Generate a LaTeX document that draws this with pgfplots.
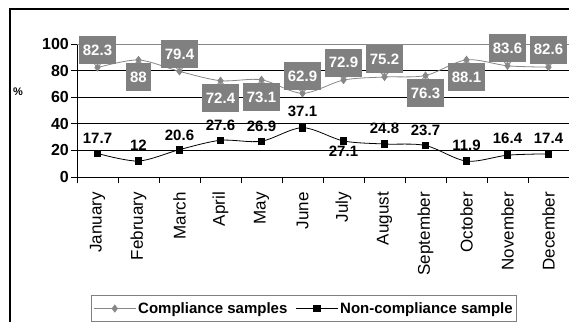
\documentclass[border=0pt]{standalone}
\usepackage{fontspec}
\setmainfont{Liberation Sans}
\usepackage{pgfplots}
\pgfplotsset{compat=1.18}
\usepackage{pgfplotstable}

\definecolor{boxgray}{RGB}{128,128,128}
\definecolor{linegray}{RGB}{135,135,135}

% m: month, c/cl: compliance value and its label, coff: label box offset,
% cb/ct: base and tip of the small pointer, measured from the box centre,
% n/nl: non-compliance value and its label, nd: label offset
\pgfplotstableread{
m  c     cl    coff   cb    ct     n     nl    nd
1  82.3  82.3  17.5  -13.5 -17.5  17.7  17.7  15
2  88    88   -17.5   13.5  17.5  12    12    16
3  79.4  79.4  17.5  -13.5 -17.5  20.6  20.6  14
4  72.4  72.4 -17.5   13.5  17.5  27.6  27.6  15
5  73.1  73.1 -17.5   13.5  17.5  26.9  26.9  15
6  62.9  62.9  17.5  -13.5 -17.5  37.1  37.1  16
7  72.9  72.9  17.5  -13.5 -17.5  27.1  27.1 -10
8  75.2  75.2  17.5  -13.5 -17.5  24.8  24.8  16
9  76.3  76.3 -17.5   13.5  17.5  23.7  23.7  15
10 88.1  88.1 -17.5   13.5  17.5  11.9  11.9  16
11 83.6  83.6  17.5  -13.5 -17.5  16.4  16.4  17
12 82.6  82.6  17.5  -13.5 -17.5  17.4  17.4  16
}\samples

\begin{document}
\begin{tikzpicture}
\useasboundingbox (0,0) rectangle (569bp,322bp);
\clip (0,0) rectangle (569bp,322bp);
\fill[white] (0,0) rectangle (569bp,322bp);
\draw[line width=2bp] (9.5bp,-5bp) |- (580bp,312.5bp);
\begin{axis}[
  at={(77bp,145bp)}, anchor=south west,
  scale only axis, width=492bp, height=133bp,
  xmin=0.5, xmax=12.5, ymin=0, ymax=100,
  clip=false,
  axis x line*=bottom, axis y line*=left,
  axis line style={black, line width=0.8bp, -},
  xtick={0.5,1.5,...,12.5},
  x tick label as interval,
  xticklabels={January,February,March,April,May,June,July,August,September,October,November,December},
  xticklabel style={yshift=-7bp, rotate=90, anchor=east, font=\fontsize{17bp}{17bp}\selectfont, inner sep=2bp},
  ytick={0,20,...,80},
  extra y ticks={100},
  extra y tick style={major grid style={linegray, line width=0.8bp}},
  ymajorgrids, major grid style={black, line width=0.8bp},
  tick align=outside, major tick length=6bp,
  tick style={black, line width=0.8bp},
  /pgf/number format/assume math mode=true,
  yticklabel style={font=\bfseries\fontsize{16bp}{16bp}\selectfont, inner sep=2bp},
  ylabel={\%},
  ylabel style={rotate=-90, font=\bfseries\fontsize{11bp}{11bp}\selectfont, at={(axis description cs:-0.12,0.64)}, anchor=center},
  legend style={at={(axis description cs:0.0285,-0.887)}, anchor=north west,
    draw=gray, line width=0.8bp, font=\bfseries\fontsize{15bp}{15bp}\selectfont,
    inner xsep=2bp, inner ysep=5bp,
    /tikz/every even column/.append style={column sep=6bp}},
  legend columns=2, legend cell align=left,
  legend image code/.code={\draw[mark repeat=2,mark phase=2] plot coordinates {(0bp,0bp) (21bp,0bp) (42bp,0bp)};},
]
\addplot[color=linegray, line width=0.8bp, smooth, mark=diamond*, mark size=3.5bp,
  mark options={fill=linegray, draw=linegray},
  nodes near coords, point meta=explicit symbolic,
  visualization depends on={\thisrow{coff} \as \coff},
  visualization depends on={\thisrow{cb} \as \cbase},
  visualization depends on={\thisrow{ct} \as \ctip},
  nodes near coords align=center,
  every node near coord/.append style={rectangle, fill=boxgray, draw=none,
    text=white, font=\bfseries\fontsize{15bp}{15bp}\selectfont,
    inner xsep=4bp, inner ysep=0pt, minimum height=28bp, anchor=center,
    yshift=\coff bp,
    append after command={
      [fill=boxgray, draw=none]
        ([shift={(-3.5bp,\cbase bp)}]\tikzlastnode.center)
        -- ([shift={(3.5bp,\cbase bp)}]\tikzlastnode.center)
        -- ([shift={(0bp,\ctip bp)}]\tikzlastnode.center) -- cycle}}]
  table[x=m, y=c, meta=cl]{\samples};
\addlegendentry{Compliance samples}
\addplot[color=black, line width=0.8bp, smooth, mark=square*, mark size=3.3bp,
  mark options={fill=black},
  nodes near coords, point meta=explicit symbolic,
  visualization depends on={\thisrow{nd} \as \nd},
  nodes near coords align=center,
  every node near coord/.append style={text=black, font=\bfseries\fontsize{15bp}{15bp}\selectfont,
    inner sep=0pt, anchor=center, yshift=\nd bp}]
  table[x=m, y=n, meta=nl]{\samples};
\addlegendentry{Non-compliance sample}
\end{axis}
\end{tikzpicture}
\end{document}
